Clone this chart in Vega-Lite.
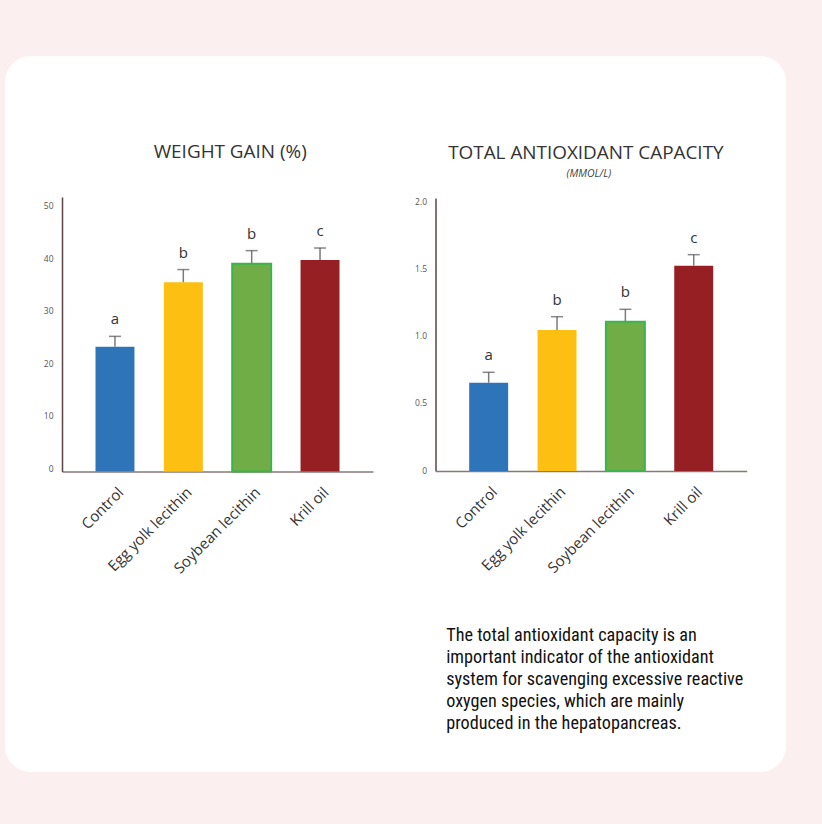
{
  "$schema": "https://vega.github.io/schema/vega-lite/v6.json",
  "width": 781,
  "height": 716,
  "autosize": {"type": "none"},
  "padding": {"left": 5, "top": 56, "right": 36, "bottom": 52},
  "background": "#fbf0ef",
  "config": {
    "view": {"fill": "#ffffff", "stroke": null, "cornerRadius": 26},
    "axis": {"grid": false, "ticks": false}
  },
  "datasets": {
    "wg": [
      {"group": "Control", "value": 23.7, "hi": 25.7, "sig": "a"},
      {"group": "Egg yolk lecithin", "value": 36.0, "hi": 38.4, "sig": "b"},
      {"group": "Soybean lecithin", "value": 39.5, "hi": 42.0, "sig": "b"},
      {"group": "Krill oil", "value": 40.2, "hi": 42.5, "sig": "c"}
    ],
    "tac": [
      {"group": "Control", "value": 0.657, "hi": 0.735, "sig": "a"},
      {"group": "Egg yolk lecithin", "value": 1.05, "hi": 1.149, "sig": "b"},
      {"group": "Soybean lecithin", "value": 1.112, "hi": 1.204, "sig": "b"},
      {"group": "Krill oil", "value": 1.529, "hi": 1.611, "sig": "c"}
    ]
  },
  "layer": [
    {
      "data": {"name": "wg"},
      "encoding": {
        "x": {
          "field": "group", "type": "nominal", "sort": null,
          "scale": {"domain": ["Control", "Egg yolk lecithin", "Soybean lecithin", "Krill oil"], "range": [57, 368], "paddingInner": 0.43, "paddingOuter": 0.49},
          "axis": {"orient": "bottom", "offset": -300.5, "title": null, "labelAngle": -45, "labelAlign": "right", "labelBaseline": "middle", "labelFontSize": 15, "labelColor": "#333333", "labelFont": "Open Sans", "labelPadding": 18, "labelOffset": 6, "domainColor": "#8a7777", "domainWidth": 1.5, "ticks": false}
        }
      },
      "layer": [
        {
          "mark": {"type": "bar", "strokeWidth": 2},
          "encoding": {
            "y": {"field": "value", "type": "quantitative", "scale": {"domain": [0, 52.2], "range": [415.5, 141], "nice": false, "zero": true},
              "axis": {"orient": "left", "offset": -57, "values": [0, 10, 20, 30, 40, 50], "title": null, "domainColor": "#5a4444", "domainWidth": 1.5, "labelFontSize": 8.5, "labelColor": "#555555", "labelFont": "Open Sans", "labelPadding": 9, "labelOffset": -3, "ticks": false, "grid": false}},
            "color": {"field": "group", "type": "nominal", "legend": null, "scale": {"domain": ["Control", "Egg yolk lecithin", "Soybean lecithin", "Krill oil"], "range": ["#2e74b8", "#fcbf12", "#70ad47", "#951f22"]}},
            "stroke": {"condition": {"test": "datum.group === 'Soybean lecithin'", "value": "#3cb44b"}, "value": "transparent"}
          }
        },
        {
          "mark": {"type": "rule", "color": "#7a7a7a", "strokeWidth": 1.5},
          "encoding": {"y": {"field": "value", "type": "quantitative"}, "y2": {"field": "hi"}}
        },
        {
          "mark": {"type": "tick", "size": 12, "thickness": 1.5, "color": "#555555"},
          "encoding": {"y": {"field": "hi", "type": "quantitative"}}
        },
        {
          "mark": {"type": "text", "dy": -12, "fontSize": 15, "font": "Open Sans", "color": "#333333", "baseline": "alphabetic"},
          "encoding": {"y": {"field": "hi", "type": "quantitative"}, "text": {"field": "sig"}}
        },
        {
          "data": {"values": [{"t": "WEIGHT GAIN (%)"}]},
          "mark": {"type": "text", "fontSize": 18.9, "font": "Open Sans", "fontWeight": 400, "color": "#333333", "align": "center", "baseline": "alphabetic", "dx": -2},
          "encoding": {
            "x": {"datum": "Soybean lecithin", "type": "nominal", "bandPosition": 0},
            "y": {"datum": 59.54, "type": "quantitative"},
            "text": {"field": "t"}
          }
        }
      ]
    },
    {
      "data": {"name": "tac"},
      "encoding": {
        "x": {
          "field": "group", "type": "nominal", "sort": null,
          "scale": {"domain": ["Control", "Egg yolk lecithin", "Soybean lecithin", "Krill oil"], "range": [430.7, 741.7], "paddingInner": 0.43, "paddingOuter": 0.49},
          "axis": {"orient": "bottom", "offset": -301, "title": null, "labelAngle": -45, "labelAlign": "right", "labelBaseline": "middle", "labelFontSize": 15, "labelColor": "#333333", "labelFont": "Open Sans", "labelPadding": 18, "labelOffset": 6, "domainColor": "#8a7777", "domainWidth": 1.5, "ticks": false}
        }
      },
      "layer": [
        {
          "mark": {"type": "bar", "strokeWidth": 2},
          "encoding": {
            "y": {"field": "value", "type": "quantitative", "scale": {"domain": [0, 2.033], "range": [415, 142], "nice": false, "zero": true},
              "axis": {"orient": "left", "offset": -430.5, "values": [0, 0.5, 1, 1.5, 2], "labelExpr": "datum.value == 0 ? '0' : format(datum.value, '.1f')", "title": null, "domainColor": "#5a4444", "domainWidth": 1.5, "labelFontSize": 8.5, "labelColor": "#555555", "labelFont": "Open Sans", "labelPadding": 9, "labelOffset": -1, "ticks": false, "grid": false}},
            "color": {"field": "group", "type": "nominal", "legend": null, "scale": {"domain": ["Control", "Egg yolk lecithin", "Soybean lecithin", "Krill oil"], "range": ["#2e74b8", "#fcbf12", "#70ad47", "#951f22"]}},
            "stroke": {"condition": {"test": "datum.group === 'Soybean lecithin'", "value": "#3cb44b"}, "value": "transparent"}
          }
        },
        {
          "mark": {"type": "rule", "color": "#7a7a7a", "strokeWidth": 1.5},
          "encoding": {"y": {"field": "value", "type": "quantitative"}, "y2": {"field": "hi"}}
        },
        {
          "mark": {"type": "tick", "size": 12, "thickness": 1.5, "color": "#555555"},
          "encoding": {"y": {"field": "hi", "type": "quantitative"}}
        },
        {
          "mark": {"type": "text", "dy": -12, "fontSize": 15, "font": "Open Sans", "color": "#333333", "baseline": "alphabetic"},
          "encoding": {"y": {"field": "hi", "type": "quantitative"}, "text": {"field": "sig"}}
        },
        {
          "data": {"values": [{"t": "TOTAL ANTIOXIDANT CAPACITY"}]},
          "mark": {"type": "text", "fontSize": 18.9, "font": "Open Sans", "fontWeight": 400, "color": "#333333", "align": "center", "baseline": "alphabetic", "dx": -20},
          "encoding": {
            "x": {"datum": "Soybean lecithin", "type": "nominal", "bandPosition": 0},
            "y": {"datum": 2.326, "type": "quantitative"},
            "text": {"field": "t"}
          }
        },
        {
          "data": {"values": [{"t": "(MMOL/L)"}]},
          "mark": {"type": "text", "fontSize": 10.5, "font": "Open Sans", "fontStyle": "italic", "color": "#444444", "align": "center", "baseline": "alphabetic", "dx": -17},
          "encoding": {
            "x": {"datum": "Soybean lecithin", "type": "nominal", "bandPosition": 0},
            "y": {"datum": 2.193, "type": "quantitative"},
            "text": {"field": "t"}
          }
        },
        {
          "data": {"values": [{"p": "The total antioxidant capacity is an\nimportant indicator of the antioxidant\nsystem for scavenging excessive reactive\noxygen species, which are mainly\nproduced in the hepatopancreas."}]},
          "mark": {"type": "text", "align": "left", "baseline": "alphabetic", "lineBreak": "\n", "lineHeight": 22, "fontSize": 18.2, "fontWeight": 400, "font": "Liberation Sans Narrow, Roboto Condensed, Roboto", "color": "#111111", "dx": -23},
          "encoding": {
            "x": {"datum": "Control", "type": "nominal", "bandPosition": 0},
            "y": {"datum": -1.2636, "type": "quantitative"},
            "text": {"field": "p"}
          }
        }
      ]
    }
  ],
  "resolve": {
    "scale": {"x": "independent", "y": "independent", "color": "independent", "stroke": "independent"},
    "axis": {"x": "independent", "y": "independent"}
  }
}
